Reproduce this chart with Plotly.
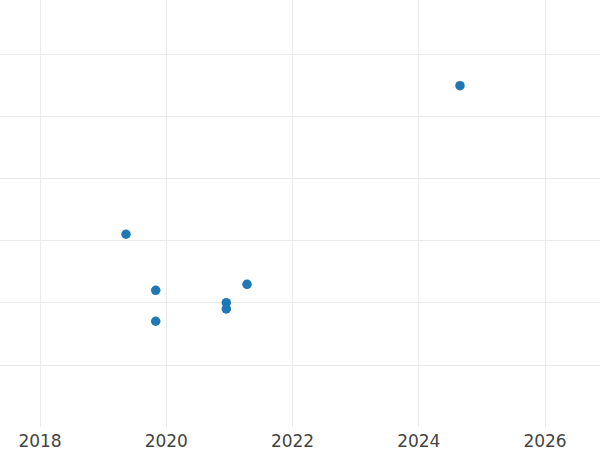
import plotly.graph_objects as go

years = [2019.362, 2019.833, 2019.833, 2020.951, 2020.951, 2021.279, 2024.653]
values = [31.05, 22.04, 17.06, 20.05, 19.04, 23.0, 54.94]

fig = go.Figure()
fig.add_trace(go.Scatter(
    x=years, y=values, mode="markers",
    marker=dict(color="#1f77b4", size=9.5),
))

fig.update_layout(
    width=600, height=450,
    margin=dict(l=0, r=0, t=0, b=23),
    plot_bgcolor="white", paper_bgcolor="white",
    showlegend=False,
    font=dict(family="DejaVu Sans", size=17, color="#444444"),
)
fig.update_xaxes(
    range=[2017.366, 2026.871], dtick=2, tick0=2018,
    showgrid=True, gridcolor="#ebebeb", gridwidth=1.3,
    zeroline=False, showline=False, ticks="", ticklabelstandoff=2,
)
fig.update_yaxes(
    range=[0.06, 68.71], dtick=10, tick0=0,
    showgrid=True, gridcolor="#ebebeb", gridwidth=1.3,
    zeroline=False, showline=False, showticklabels=False, ticks="",
)

fig.write_html(
    "out.html",
    config={"displayModeBar": False},
    post_script="document.body.style.margin='0';document.body.style.overflow='hidden';",
)
